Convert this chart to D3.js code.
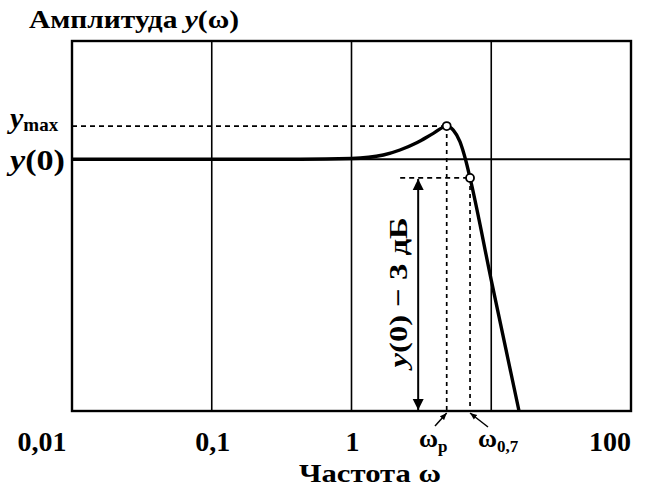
<!DOCTYPE html>
<html>
<head>
<meta charset="utf-8">
<script src="https://cdn.jsdelivr.net/npm/d3@7"></script>
<style>
  body { margin: 0; background: #fff; }
  text { font-family: "Liberation Serif", "Times New Roman", serif; font-weight: bold; fill: #000; }
</style>
</head>
<body>
<svg id="chart" width="647" height="488"></svg>
<script>
// frequency response curve (schematic), y(0) = 1
var freq = [0.01, 0.43, 1.0, 1.69, 2.22, 2.93, 3.85, 4.8, 5.35, 5.97, 6.56, 7.05, 10, 15.8];
var amp  = [1, 1, 1.003, 1.017, 1.037, 1.066, 1.103, 1.132, 1.116, 1.07, 0.997, 0.926, 0.52, 0];

var gridFreq = [0.1, 1, 10];
var tickFreq = [0.01, 0.1, 1, 100];
var tickLabels = ["0,01", "0,1", "1", "100"];

var wP = 4.8, aMax = 1.132;    // resonance peak
var w07 = 7.05, a07 = 0.926;   // -3 dB point
var a0 = 1;
var wArrow = 3;

var svg = d3.select("#chart");

var x = d3.scaleLog().domain([0.01, 100]).range([72, 631]);
var y = d3.scaleLinear().domain([0, 1.47]).range([411, 41]);

// grid
svg.selectAll(".vgrid")
  .data(gridFreq)
  .enter().append("line")
  .attr("x1", d => x(d)).attr("x2", d => x(d))
  .attr("y1", y(1.47)).attr("y2", y(0))
  .attr("stroke", "#000").attr("stroke-width", 1.6);

svg.append("line")
  .attr("x1", x(0.01)).attr("x2", x(100))
  .attr("y1", y(a0)).attr("y2", y(a0))
  .attr("stroke", "#000").attr("stroke-width", 2);

// frame
svg.append("rect")
  .attr("x", x(0.01)).attr("y", y(1.47))
  .attr("width", x(100) - x(0.01)).attr("height", y(0) - y(1.47))
  .attr("fill", "none").attr("stroke", "#000").attr("stroke-width", 2.4);

// dashed guides
function dash(x1, y1, x2, y2, pat) {
  svg.append("line")
    .attr("x1", x1).attr("y1", y1).attr("x2", x2).attr("y2", y2)
    .attr("stroke", "#000").attr("stroke-width", 1.7)
    .attr("stroke-dasharray", pat);
}
var ax = x(wArrow);
dash(x(0.01), y(aMax), x(wP), y(aMax), "5,4");
dash(x(wP), y(aMax), x(wP), y(0), "4,4");
dash(x(w07), y(a07), x(w07), y(0), "4,4");
dash(ax - 18, y(a07), x(w07), y(a07), "5,4");

// curve
var line = d3.line()
  .x((d, i) => x(freq[i]))
  .y(d => y(d))
  .curve(d3.curveMonotoneX);

svg.append("path")
  .attr("d", line(amp))
  .attr("fill", "none").attr("stroke", "#000").attr("stroke-width", 3.4)
  .attr("stroke-linejoin", "round");

// markers on curve
svg.selectAll(".pt")
  .data([[wP, aMax], [w07, a07]])
  .enter().append("circle")
  .attr("cx", d => x(d[0])).attr("cy", d => y(d[1]))
  .attr("r", 4).attr("fill", "#fff")
  .attr("stroke", "#000").attr("stroke-width", 1.8);

// double arrow y(0) - 3 dB
var defs = svg.append("defs");
defs.append("marker")
  .attr("id", "head").attr("viewBox", "0 0 10 10")
  .attr("refX", 10).attr("refY", 5)
  .attr("markerWidth", 11).attr("markerHeight", 18)
  .attr("markerUnits", "userSpaceOnUse")
  .attr("orient", "auto-start-reverse")
  .append("path").attr("d", "M0,0L10,5L0,10Z").attr("fill", "#000");
defs.append("marker")
  .attr("id", "tip").attr("viewBox", "0 0 10 10")
  .attr("refX", 10).attr("refY", 5)
  .attr("markerWidth", 7).attr("markerHeight", 7)
  .attr("markerUnits", "userSpaceOnUse")
  .attr("orient", "auto")
  .append("path").attr("d", "M0,1L10,5L0,9Z").attr("fill", "#000");

svg.append("line")
  .attr("x1", ax).attr("x2", ax)
  .attr("y1", y(0) - 1).attr("y2", y(a07) + 1)
  .attr("stroke", "#000").attr("stroke-width", 2)
  .attr("marker-start", "url(#head)").attr("marker-end", "url(#head)");

var vt = svg.append("text")
  .attr("transform", "translate(" + (ax - 11) + "," + ((y(0) + y(a07)) / 2 - 2) + ") rotate(-90)")
  .attr("text-anchor", "middle")
  .attr("font-size", 26)
  .attr("textLength", 150).attr("lengthAdjust", "spacingAndGlyphs");
vt.append("tspan").attr("font-style", "italic").text("y");
vt.append("tspan").text("(0) \u2212 3 дБ");

// x tick labels
svg.selectAll(".tick")
  .data(tickFreq)
  .enter().append("text")
  .attr("x", d => x(d) + (d === 0.01 ? -30 : d === 100 ? -21 : 1))
  .attr("y", 451)
  .attr("text-anchor", "middle")
  .attr("font-size", 28)
  .text((d, i) => tickLabels[i]);

// omega_p and omega_0.7 labels with leaders
var lp = svg.append("text").attr("x", 419).attr("y", 447).attr("font-size", 26);
lp.append("tspan").text("ω");
lp.append("tspan").attr("font-size", 17).attr("dy", 5).text("р");
svg.append("line")
  .attr("x1", 435).attr("y1", 426).attr("x2", x(wP)).attr("y2", y(0) + 2)
  .attr("stroke", "#000").attr("stroke-width", 1.5).attr("marker-end", "url(#tip)");

var l7 = svg.append("text").attr("x", 478).attr("y", 447).attr("font-size", 26);
l7.append("tspan").text("ω");
l7.append("tspan").attr("font-size", 17).attr("dy", 5).text("0,7");
svg.append("line")
  .attr("x1", 488).attr("y1", 427).attr("x2", x(w07)).attr("y2", y(0) + 2)
  .attr("stroke", "#000").attr("stroke-width", 1.5).attr("marker-end", "url(#tip)");

// y labels
var ym = svg.append("text").attr("x", 10).attr("y", y(aMax) + 2).attr("font-size", 30);
ym.append("tspan").attr("font-style", "italic").text("y");
ym.append("tspan").attr("font-size", 19).attr("dy", 3).text("max");

var y0 = svg.append("text").attr("x", 10).attr("y", y(a0) + 11).attr("font-size", 29)
  .attr("textLength", 55).attr("lengthAdjust", "spacingAndGlyphs");
y0.append("tspan").attr("font-style", "italic").text("y");
y0.append("tspan").text("(0)");

// titles
var t = svg.append("text").attr("x", 29).attr("y", 28).attr("font-size", 26)
  .attr("textLength", 210).attr("lengthAdjust", "spacingAndGlyphs");
t.append("tspan").text("Амплитуда ");
t.append("tspan").attr("font-style", "italic").text("y");
t.append("tspan").text("(ω)");

svg.append("text")
  .attr("x", 370).attr("y", 482)
  .attr("text-anchor", "middle")
  .attr("font-size", 26)
  .attr("textLength", 142).attr("lengthAdjust", "spacingAndGlyphs")
  .text("Частота ω");
</script>
</body>
</html>
